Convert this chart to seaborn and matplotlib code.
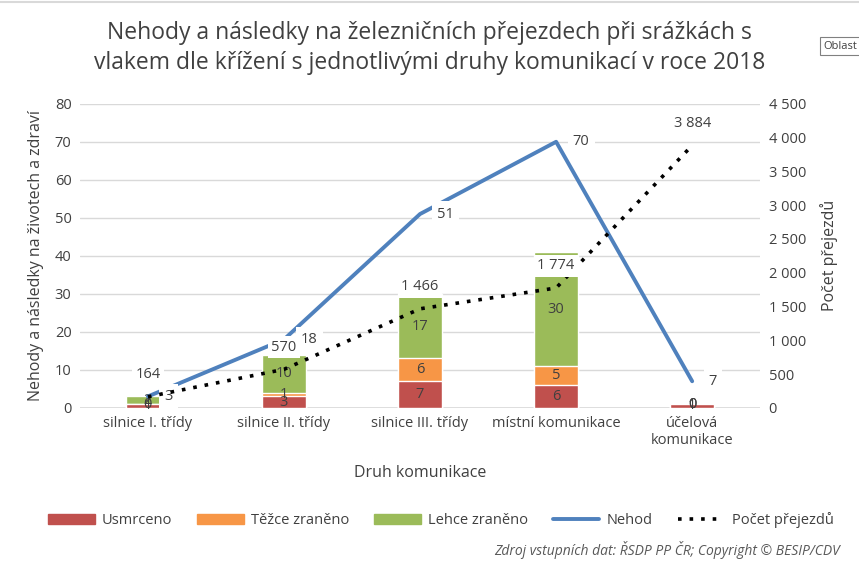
import numpy as np
import matplotlib.pyplot as plt
import seaborn as sns
from matplotlib.patches import Patch
from matplotlib.lines import Line2D
from matplotlib.ticker import FuncFormatter

categories = ["silnice I. třídy", "silnice II. třídy", "silnice III. třídy",
              "místní komunikace", "účelová\nkomunikace"]
usmrceno = [1, 3, 7, 6, 1]
tezce = [0, 1, 6, 5, 0]
lehce = [2, 10, 17, 30, 0]
nehod = [3, 18, 51, 70, 7]
prejezdu = [164, 570, 1466, 1774, 3884]

RED, ORANGE, GREEN, BLUE = "#C0504D", "#F79646", "#9BBB59", "#4F81BD"
TXT = "#404040"

sns.set_style("white")
plt.rcParams["font.family"] = ["Open Sans", "DejaVu Sans"]

fig = plt.figure(figsize=(8.59, 5.61), dpi=100)
ax = fig.add_axes([0.093, 0.273, 0.792, 0.542])
x = np.arange(len(categories))

u = np.array(usmrceno)
t = np.array(tezce)
l = np.array(lehce)
# stacked bars: draw the cumulative totals from the top down
sns.barplot(x=x, y=u + t + l, color=GREEN, width=0.32, saturation=1, ax=ax, zorder=2)
sns.barplot(x=x, y=u + t, color=ORANGE, width=0.32, saturation=1, ax=ax, zorder=2)
sns.barplot(x=x, y=u, color=RED, width=0.32, saturation=1, ax=ax, zorder=2)

for i in x:
    ax.text(i, u[i] / 2, str(u[i]), ha="center", va="center", fontsize=10.5, color=TXT, zorder=3)
    ax.text(i, u[i] + t[i] / 2, str(t[i]), ha="center", va="center", fontsize=10.5, color=TXT, zorder=3)
    ax.text(i, u[i] + t[i] + l[i] / 2, str(l[i]), ha="center", va="center", fontsize=10.5, color=TXT, zorder=3)

sns.lineplot(x=x, y=nehod, color=BLUE, linewidth=2.8, ax=ax, zorder=4)
for i in x:
    ax.annotate(str(nehod[i]), (i, nehod[i]), xytext=(12, 0), textcoords="offset points",
                ha="left", va="center", fontsize=10.5, color=TXT, zorder=6,
                bbox=dict(boxstyle="square,pad=0.35", fc="white", ec="none"))

ax.set_xlim(-0.5, 4.5)
ax.set_ylim(0, 80)
ax.set_yticks(range(0, 81, 10))
ax.set_xticks(x)
ax.set_xticklabels(categories)
ax.tick_params(axis="both", labelsize=10.5, colors=TXT, length=0, pad=6)
ax.yaxis.grid(True, color="#D9D9D9", linewidth=1)
ax.set_axisbelow(True)
for s in ax.spines.values():
    s.set_visible(False)
ax.axhline(0, color="#D9D9D9", linewidth=1.2, zorder=1)
ax.set_xlabel("Druh komunikace", fontsize=11.5, color=TXT, labelpad=12)
ax.set_ylabel("Nehody a následky na životech a zdraví", fontsize=11.5, color=TXT, labelpad=8)

ax2 = ax.twinx()
sns.lineplot(x=x, y=prejezdu, color="black", linewidth=2.6, linestyle=(0, (1, 2.2)), ax=ax2, zorder=5)
for i in x:
    ax2.annotate(f"{prejezdu[i]:,}".replace(",", " "), (i, prejezdu[i]), xytext=(0, 16),
                 textcoords="offset points", ha="center", va="center", fontsize=10.5, color=TXT,
                 bbox=dict(boxstyle="square,pad=0.25", fc="white", ec="none"), zorder=6)
ax2.set_ylim(0, 4500)
ax2.set_yticks(range(0, 4501, 500))
ax2.yaxis.set_major_formatter(FuncFormatter(lambda v, p: f"{int(v):,}".replace(",", " ")))
ax2.tick_params(axis="y", labelsize=10.5, colors=TXT, length=0, pad=6)
for s in ax2.spines.values():
    s.set_visible(False)
ax2.set_ylabel("Počet přejezdů", fontsize=11.5, color=TXT, labelpad=10)

fig.suptitle("Nehody a následky na železničních přejezdech při srážkách s\n"
             "vlakem dle křížení s jednotlivými druhy komunikací v roce 2018",
             y=0.962, fontsize=16.5, color=TXT, linespacing=1.3)

handles = [Patch(color=RED), Patch(color=ORANGE), Patch(color=GREEN),
           Line2D([], [], color=BLUE, linewidth=2.8),
           Line2D([], [], color="black", linewidth=2.6, linestyle=(0, (1, 2.2)))]
labels = ["Usmrceno", "Těžce zraněno", "Lehce zraněno", "Nehod", "Počet přejezdů"]
fig.legend(handles, labels, loc="center", bbox_to_anchor=(0.513, 0.073), ncol=5, frameon=False,
           fontsize=10.5, handlelength=3.2, handleheight=0.7, columnspacing=1.7, handletextpad=0.5,
           labelcolor=TXT)

fig.text(0.978, 0.02, "Zdroj vstupních dat: ŘSDP PP ČR; Copyright © BESIP/CDV",
         ha="right", va="center", fontsize=10, style="italic", color="#595959")
fig.text(0.958, 0.918, "Oblast", ha="left", va="center", fontsize=8, color=TXT,
         bbox=dict(boxstyle="square,pad=0.3", fc="white", ec="#808080", lw=0.8))
fig.add_artist(Line2D([0, 1], [0.996, 0.996], color="#D9D9D9", linewidth=1.5))

fig.savefig("out.png", dpi=100)
